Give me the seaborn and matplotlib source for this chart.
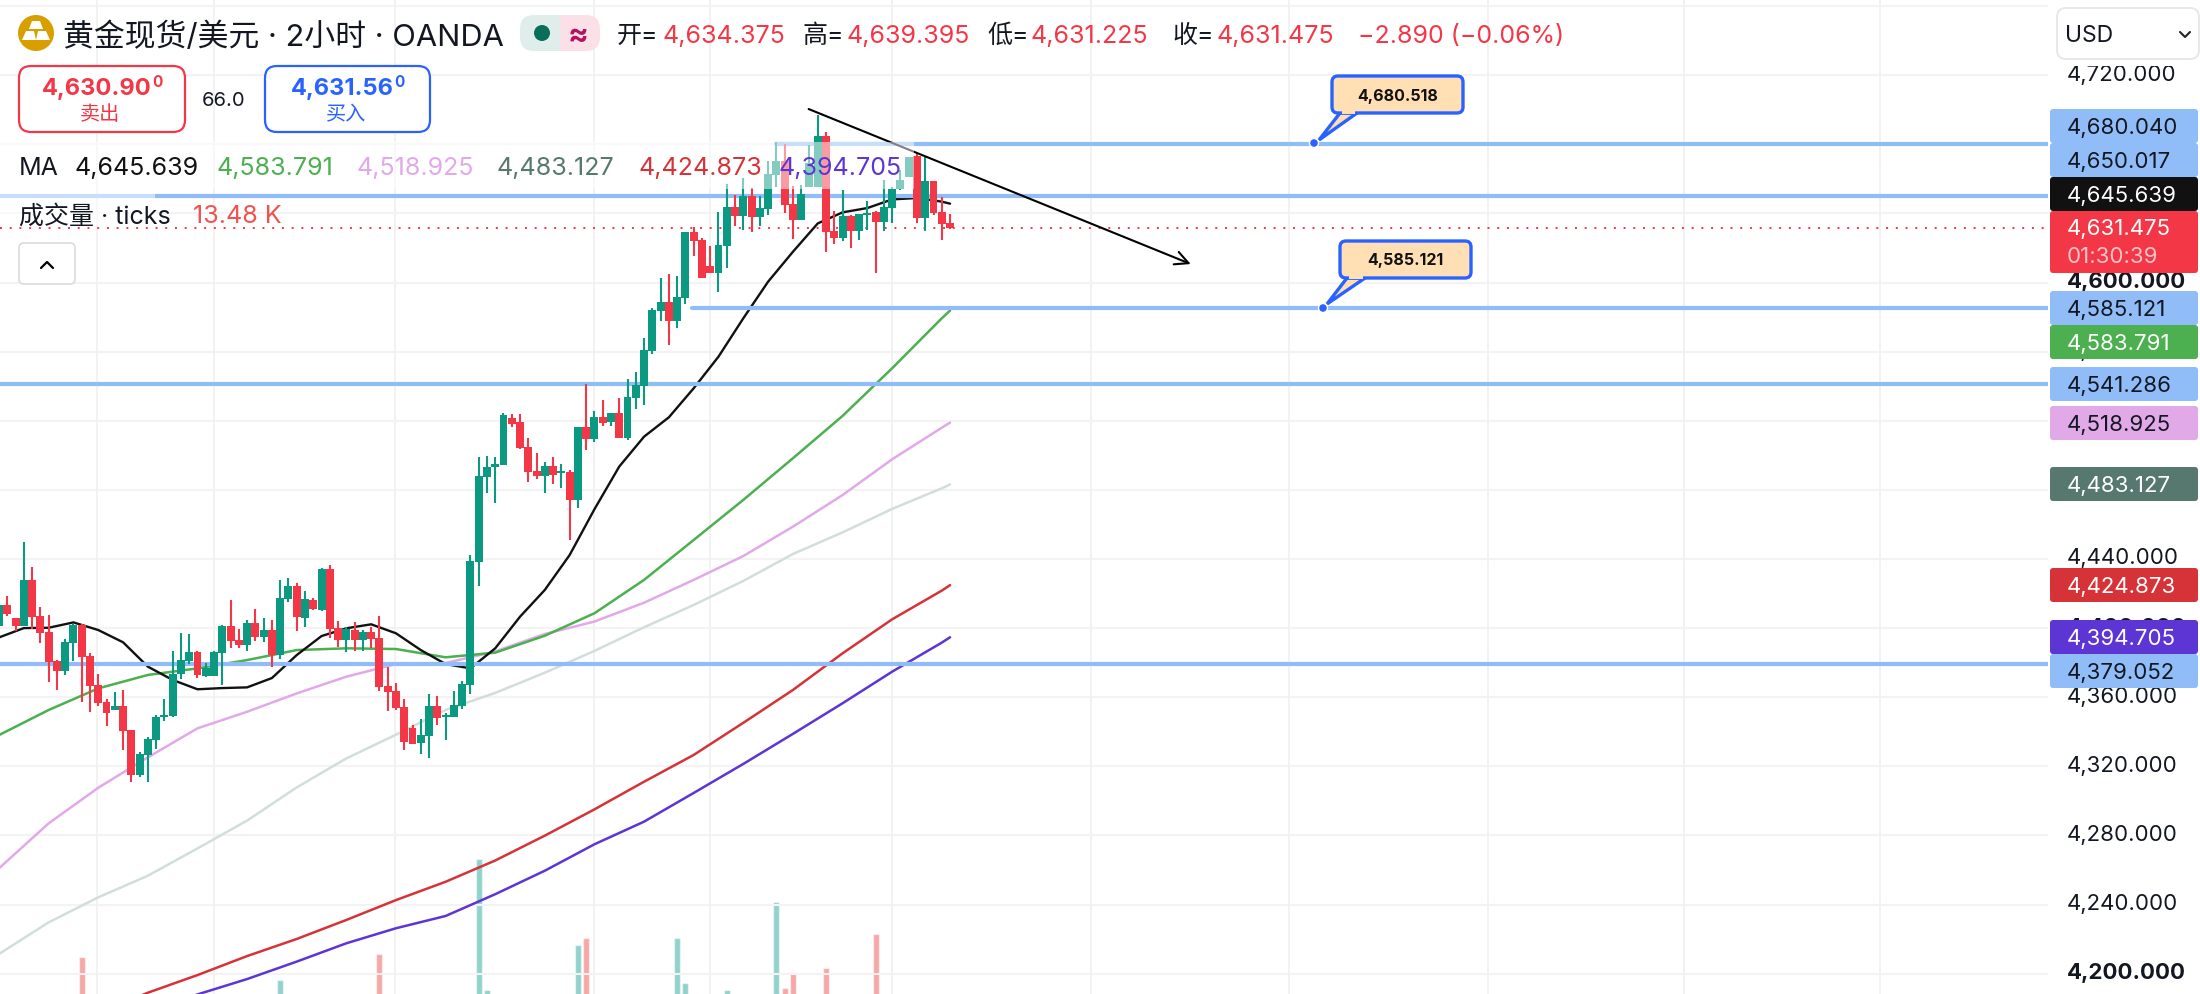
# gold spot 2h candle screenshot
import matplotlib
matplotlib.use('Agg')
import matplotlib.pyplot as plt
import seaborn as sns
import pandas as pd
from matplotlib.patches import FancyBboxPatch, Rectangle, Circle, Polygon
from matplotlib.lines import Line2D
from matplotlib.ticker import FuncFormatter
from matplotlib.transforms import Affine2D, ScaledTranslation

W, H = 2200, 994

opens = [4401.2, 4413.4, 4405.8, 4401.4, 4427.8, 4407.0, 4397.7, 4381.0, 4375.4, 4391.4,
         4401.8, 4383.8, 4367.1, 4357.2, 4352.6, 4354.9, 4341.0, 4315.0, 4326.6, 4335.2,
         4348.5, 4349.1, 4373.4, 4381.0, 4386.2, 4372.3, 4372.3, 4385.6, 4401.2, 4393.1,
         4390.2, 4402.9, 4394.8, 4398.9, 4384.4, 4416.8, 4424.4, 4405.8, 4416.2, 4410.5,
         4434.2, 4400.0, 4393.1, 4398.9, 4393.1, 4397.7, 4394.3, 4366.5, 4363.6, 4354.3,
         4342.2, 4333.5, 4337.6, 4354.9, 4348.5, 4348.5, 4354.9, 4367.1, 4438.2, 4487.4,
         4493.2, 4494.3, 4521.5, 4519.2, 4504.8, 4490.9, 4488.0, 4493.8, 4489.7, 4490.3,
         4474.1, 4516.3, 4509.4, 4522.1, 4519.2, 4524.4, 4510.0, 4533.1, 4540.1, 4560.4,
         4583.5, 4588.8, 4577.8, 4591.0, 4629.2, 4624.6, 4609.5, 4605.5, 4621.1, 4643.7,
         4638.5, 4650.0, 4637.9, 4642.5, 4662.2, 4670.3, 4645.4, 4636.2, 4655.3, 4655.3,
         4684.8, 4629.8, 4625.7, 4638.5, 4629.8, 4639.0, 4640.8, 4635.0, 4643.1, 4654.1,
         4661.0, 4673.2, 4637.3, 4658.7, 4640.8, 4634.375]
closes = [4413.4, 4408.2, 4401.2, 4427.8, 4406.6, 4397.4, 4380.6, 4375.4, 4391.9, 4401.8,
          4383.3, 4366.5, 4356.6, 4350.9, 4354.9, 4340.4, 4315.0, 4327.1, 4335.8, 4348.5,
          4349.7, 4373.4, 4381.5, 4386.2, 4372.9, 4376.9, 4386.2, 4401.2, 4392.5, 4390.2,
          4402.9, 4394.8, 4398.9, 4384.4, 4417.4, 4424.4, 4406.4, 4416.8, 4411.0, 4434.2,
          4399.5, 4393.1, 4399.5, 4393.1, 4397.7, 4393.7, 4365.9, 4363.0, 4353.8, 4334.1,
          4332.9, 4338.1, 4354.9, 4348.0, 4349.7, 4355.5, 4367.6, 4438.8, 4488.0, 4493.2,
          4494.9, 4523.3, 4518.1, 4504.2, 4490.3, 4488.0, 4493.8, 4488.6, 4490.9, 4474.1,
          4516.3, 4509.4, 4522.1, 4518.7, 4524.4, 4510.0, 4533.7, 4540.6, 4561.0, 4584.1,
          4588.8, 4577.8, 4591.6, 4629.2, 4624.0, 4602.6, 4605.5, 4621.7, 4643.7, 4638.5,
          4650.0, 4637.9, 4643.1, 4662.8, 4670.3, 4644.8, 4636.2, 4651.2, 4669.0, 4684.8,
          4629.2, 4625.7, 4638.5, 4629.8, 4639.6, 4640.2, 4635.0, 4643.7, 4654.1, 4659.3,
          4672.6, 4637.3, 4658.7, 4640.2, 4633.8, 4631.475]
highs = [4413.4, 4418.6, 4405.8, 4449.8, 4435.4, 4412.2, 4407.6, 4381.5, 4393.7, 4402.4,
         4402.4, 4385.6, 4373.4, 4359.0, 4363.0, 4364.2, 4341.0, 4328.3, 4337.0, 4349.7,
         4359.0, 4386.7, 4397.2, 4396.6, 4386.7, 4379.8, 4386.7, 4401.8, 4416.2, 4399.5,
         4404.7, 4411.0, 4405.8, 4404.7, 4427.8, 4429.0, 4426.1, 4421.5, 4417.4, 4434.8,
         4436.5, 4404.1, 4400.6, 4403.5, 4398.9, 4400.6, 4407.0, 4377.5, 4368.2, 4359.0,
         4343.9, 4347.4, 4361.9, 4360.7, 4350.9, 4363.6, 4369.4, 4442.3, 4499.0, 4499.6,
         4499.0, 4524.4, 4523.9, 4523.9, 4510.0, 4501.3, 4496.1, 4499.0, 4494.9, 4491.5,
         4516.3, 4541.2, 4525.6, 4532.0, 4524.4, 4533.1, 4544.1, 4548.2, 4567.9, 4585.3,
         4602.6, 4605.0, 4603.8, 4629.2, 4632.1, 4625.7, 4621.1, 4640.8, 4657.0, 4650.6,
         4660.5, 4654.7, 4650.0, 4670.3, 4681.3, 4680.1, 4655.8, 4656.4, 4679.6, 4696.9,
         4687.1, 4641.4, 4653.5, 4639.0, 4639.6, 4647.2, 4641.4, 4659.3, 4655.3, 4665.1,
         4672.6, 4674.9, 4672.6, 4658.7, 4649.5, 4639.395]
lows = [4401.2, 4407.0, 4398.3, 4401.4, 4399.3, 4391.4, 4368.8, 4364.2, 4372.9, 4381.0,
        4357.2, 4351.4, 4354.9, 4343.3, 4352.6, 4329.5, 4310.9, 4313.8, 4310.9, 4330.0,
        4346.2, 4348.5, 4370.5, 4379.2, 4371.1, 4371.7, 4372.3, 4367.1, 4388.5, 4388.5,
        4386.7, 4392.5, 4391.9, 4377.5, 4382.1, 4415.1, 4398.3, 4400.6, 4410.5, 4409.9,
        4394.3, 4389.0, 4386.2, 4386.7, 4386.7, 4388.5, 4363.6, 4352.0, 4352.6, 4329.5,
        4332.9, 4327.1, 4324.8, 4343.9, 4335.2, 4348.5, 4353.2, 4361.9, 4424.3, 4478.2,
        4472.4, 4494.3, 4516.3, 4503.6, 4484.5, 4486.2, 4478.2, 4483.4, 4481.0, 4451.0,
        4469.5, 4503.0, 4507.7, 4516.9, 4516.9, 4510.0, 4508.8, 4526.8, 4529.1, 4558.7,
        4577.8, 4563.9, 4573.7, 4587.6, 4615.3, 4602.6, 4605.5, 4594.5, 4608.4, 4632.7,
        4630.4, 4629.2, 4632.7, 4639.0, 4655.3, 4640.2, 4625.2, 4636.2, 4655.3, 4655.3,
        4617.6, 4622.3, 4624.0, 4620.0, 4624.6, 4630.4, 4605.5, 4629.8, 4634.4, 4653.5,
        4661.0, 4634.4, 4629.8, 4639.0, 4624.6, 4631.225]

# only the volume bars that reach into the visible part
vol_idx = [10, 34, 46, 58, 59, 70, 71, 82, 83, 88, 94, 95, 96, 100, 106]
vol_k = [17.3, 15.0, 17.6, 27.1, 14.0, 18.5, 19.2, 19.2, 14.7, 14.0, 22.8, 14.2, 15.7, 16.2, 19.6]

# moving averages, read every few candles
idx3 = list(range(0, 115, 3)) + [115]
ma_black = [4394.6, 4400.0, 4400.2, 4403.3, 4398.9, 4391.8, 4377.7, 4370.0, 4364.6, 4365.3,
            4365.7, 4371.1, 4384.4, 4395.4, 4399.9, 4402.2, 4397.0, 4387.3, 4379.2, 4376.7,
            4388.3, 4406.6, 4422.1, 4442.3, 4468.8, 4493.5, 4510.8, 4522.0, 4538.8, 4557.1,
            4579.3, 4600.5, 4617.8, 4634.2, 4640.6, 4643.1, 4648.1, 4648.9, 4646.8, 4645.639]
idx6 = list(range(0, 115, 6)) + [115]
ma_green = [4338.1, 4352.6, 4365.1, 4372.9, 4376.7, 4381.5, 4387.3, 4388.3, 4387.9, 4383.1, 4385.8,
            4395.6, 4408.6, 4427.9, 4451.0, 4474.2, 4498.3, 4522.8, 4550.4, 4579.3, 4583.791]
ma_pink = [4261.0, 4287.0, 4307.6, 4325.2, 4342.0, 4351.6, 4362.2, 4371.9, 4379.2, 4379.8, 4386.5,
           4396.6, 4403.8, 4414.7, 4427.9, 4441.7, 4458.7, 4477.0, 4497.7, 4516.0, 4518.925]
ma_gray = [4211.4, 4229.7, 4244.2, 4256.7, 4272.5, 4288.6, 4307.8, 4324.6, 4338.3, 4352.6, 4362.5,
           4374.2, 4386.8, 4400.5, 4413.4, 4427.3, 4442.9, 4455.4, 4469.0, 4480.9, 4483.127]
idx_red = list(range(12, 115, 6)) + [115]
ma_red = [4177.0, 4189.0, 4199.2, 4210.2, 4220.1, 4231.1, 4242.6, 4253.2, 4265.5, 4279.9,
          4295.1, 4311.1, 4326.6, 4345.2, 4364.2, 4385.4, 4405.1, 4421.7, 4424.873]
idx_purple = list(range(18, 115, 6)) + [115]
ma_purple = [4178.0, 4188.0, 4196.9, 4207.0, 4217.6, 4226.3, 4233.4, 4246.0, 4259.6,
             4274.9, 4288.0, 4304.6, 4321.4, 4338.8, 4356.5, 4374.8, 4391.6, 4394.705]

# horizontal levels: price, first candle index
levels = [(4680.04, 93.9), (4650.017, 0), (4585.121, 83.8), (4541.286, 0), (4379.052, 0)]
trend_start = (97.9, 4700.4)
trend_end = (144.1, 4610.7)
last_price = 4631.475
grid_idx = [11.9, 26, 47.9, 72, 86, 108, 132, 156, 180, 203.7, 227.5]
price_ticks = list(range(4200, 4761, 40))
bold_ticks = [4200, 4400, 4600]

UP = '#0b9a81'
DOWN = '#f43747'
BLUE = '#90bdf8'
ACCENT = '#2962ff'
DARK = '#131722'
MA_COLORS = {'black': '#111111', 'green': '#4caf50', 'pink': '#e1a9e8',
             'gray': '#d2dfd9', 'red': '#d63339', 'purple': '#5e35d5', 'slate': '#56786f'}

sns.set_theme(style='white')
plt.rcParams['font.family'] = ['Inter', 'Noto Sans CJK SC', 'DejaVu Sans']

fig = plt.figure(figsize=(W / 100, H / 100), dpi=100, facecolor='white')
vol_ax = fig.add_axes([0, 0, 2048 / W, 1], zorder=1)
ax = fig.add_axes([0, 0, 2048 / W, 1], zorder=2)
ax.patch.set_visible(False)
tr = Affine2D().scale(1 / W, -1 / H).translate(0, 1) + fig.transFigure

df = pd.DataFrame({'open': opens, 'high': highs, 'low': lows, 'close': closes})
df['i'] = df.index
df['up'] = df['close'] >= df['open']
df['color'] = df['up'].map({True: UP, False: DOWN})

# volume
vol = pd.DataFrame({'i': vol_idx, 'k': vol_k})
vol['dir'] = df['up'].iloc[vol_idx].values
sns.barplot(data=vol, x='i', y='k', hue='dir', palette={True: '#26a69a', False: '#ef5350'}, native_scale=True,
            dodge=False, width=0.72, saturation=1, alpha=0.5, legend=False, ax=vol_ax)
vol_ax.set_xlim(0.121, 247.76)
vol_ax.set_ylim(13.6, 113)
vol_ax.axis('off')

# grid
for p in price_ticks:
    ax.axhline(p, color='#f3f3f3', lw=1.5, zorder=1)
for g in grid_idx:
    ax.axvline(g, color='#f1f1f1', lw=1.3, zorder=1)

# moving averages
sns.lineplot(x=idx6, y=ma_gray, color=MA_COLORS['gray'], lw=1.8, estimator=None, ax=ax, zorder=2)
sns.lineplot(x=idx6, y=ma_pink, color=MA_COLORS['pink'], lw=1.8, estimator=None, ax=ax, zorder=2)
sns.lineplot(x=idx6, y=ma_green, color=MA_COLORS['green'], lw=1.8, estimator=None, ax=ax, zorder=2)
sns.lineplot(x=idx_red, y=ma_red, color=MA_COLORS['red'], lw=1.8, estimator=None, ax=ax, zorder=2)
sns.lineplot(x=idx_purple, y=ma_purple, color=MA_COLORS['purple'], lw=1.8, estimator=None, ax=ax, zorder=2)
sns.lineplot(x=idx3, y=ma_black, color=MA_COLORS['black'], lw=1.7, estimator=None, ax=ax, zorder=2.1)

# drawn levels and last price
for price, start in levels:
    ax.plot([start, 247.76], [price, price], color=BLUE, lw=3.0, solid_capstyle='round', zorder=2.5)
ax.axhline(last_price, color=DOWN, lw=1.4, ls=(0, (1, 4)), zorder=2.6)

# candles
ax.vlines(df['i'], df['low'], df['high'], color=df['color'], lw=1.5, zorder=3)
ax.bar(df['i'], (df['close'] - df['open']).abs(), bottom=df[['open', 'close']].min(axis=1),
       width=0.96, color=df['color'], linewidth=0, zorder=3.1)

# trend arrow
ax.annotate('', xy=trend_end, xytext=trend_start, zorder=4,
            arrowprops=dict(arrowstyle='->,head_length=0.8,head_width=0.4', color='black', lw=1.5,
                            shrinkA=0, shrinkB=0))

ax.set_xlim(0.121, 247.76)
ax.set_ylim(4188.25, 4763.5)
ax.set_xticks([])
ax.set_yticks(price_ticks)
ax.yaxis.tick_right()
ax.yaxis.set_major_formatter(FuncFormatter(lambda v, pos: '' if v > 4750 else f'{v:,.3f}'))
ax.tick_params(axis='y', length=0, pad=13.5, labelsize=16, labelcolor=DARK)
nudge = ScaledTranslation(0, 2.5 / 100, fig.dpi_scale_trans)
for lab, p in zip(ax.get_yticklabels(), price_ticks):
    lab.set_transform(lab.get_transform() + nudge)
    if p in bold_ticks:
        lab.set_fontweight('bold')
for s in ax.spines.values():
    s.set_visible(False)
ax.set_xlabel('')
ax.set_ylabel('')


def box(x0, y0, x1, y1, fc, ec='none', lw=0, r=3, z=5, alpha=None):
    p = FancyBboxPatch((x0, y0), x1 - x0, y1 - y0, boxstyle=f'round,pad=0,rounding_size={r}',
                       transform=tr, fc=fc, ec=ec, lw=lw, zorder=z, alpha=alpha)
    fig.add_artist(p)
    return p


def txt(x, y, s, color=DARK, size=18, ha='left', weight='normal', z=7):
    fig.text(x, y, s, transform=tr, color=color, fontsize=size, ha=ha, va='center_baseline',
             fontweight=weight, zorder=z)


# legend rows wash out whatever is behind them
fig.add_artist(Rectangle((0, 142), 914, 47, transform=tr, fc='white', ec='none', alpha=0.5, zorder=5))
fig.add_artist(Rectangle((0, 189), 155, 37, transform=tr, fc='white', ec='none', alpha=0.5, zorder=5))

# header
fig.add_artist(Circle((36, 33), 18, transform=tr, fc='#d99e00', ec='none', zorder=6))
fig.add_artist(Polygon([(32, 21), (40, 21), (43, 29), (29, 29)], transform=tr, fc='white', ec='none', zorder=7))
fig.add_artist(Polygon([(26, 31), (34, 31), (36, 40), (22, 40)], transform=tr, fc='white', ec='none', zorder=7))
fig.add_artist(Polygon([(38, 31), (46, 31), (50, 40), (36, 40)], transform=tr, fc='white', ec='none', zorder=7))
txt(63, 34, '黄金现货/美元 · 2小时 · OANDA', size=22.2)
box(520, 15, 562, 51, '#dfeeea', r=14, z=6)
box(558, 15, 600, 51, '#fce0e8', r=14, z=6)
fig.add_artist(Rectangle((548, 15), 12, 36, transform=tr, fc='#dfeeea', ec='none', zorder=6))
fig.add_artist(Rectangle((560, 15), 12, 36, transform=tr, fc='#fce0e8', ec='none', zorder=6))
fig.add_artist(Circle((542, 33), 8, transform=tr, fc='#0b6e5b', ec='none', zorder=7))
txt(578, 33, '≈', color='#b3125e', size=22, ha='center', weight='bold')
for x, s, c in [(617, '开=', DARK), (662, '4,634.375', DOWN), (802, '高=', DARK), (846, '4,639.395', DOWN),
                (987, '低=', DARK), (1031, '4,631.225', DOWN), (1172, '收=', DARK), (1216, '4,631.475', DOWN),
                (1358, '−2.890 (−0.06%)', DOWN)]:
    txt(x, 34, s, color=c, size=18)

# bid / ask
box(19, 66, 185, 132, 'white', ec=DOWN, lw=1.6, r=12, z=6)
box(265, 66, 430, 132, 'white', ec=ACCENT, lw=1.6, r=12, z=6)
txt(152, 86, '4,630.90', color=DOWN, size=17, ha='right', weight='bold')
txt(152, 81, '0', color=DOWN, size=11, weight='bold')
txt(100, 113, '卖出', color=DOWN, size=14.5, ha='center')
txt(394, 86, '4,631.56', color=ACCENT, size=17, ha='right', weight='bold')
txt(394, 81, '0', color=ACCENT, size=11, weight='bold')
txt(346, 113, '买入', color=ACCENT, size=14.5, ha='center')
txt(224, 99, '66.0', size=14.5, ha='center')

# indicator rows
txt(19, 166, 'MA', size=18)
for x, s, c in [(75, '4,645.639', MA_COLORS['black']), (216, '4,583.791', MA_COLORS['green']),
                (356, '4,518.925', MA_COLORS['pink']), (497, '4,483.127', MA_COLORS['slate']),
                (638, '4,424.873', MA_COLORS['red']), (778, '4,394.705', MA_COLORS['purple'])]:
    txt(x, 166, s, color=c, size=18)
txt(19, 214, '成交量 · ticks', size=18)
txt(193, 214, '13.48 K', color='#ef5350', size=18)
box(19, 243, 75, 284, 'white', ec='#dddddd', lw=1.3, r=5, z=6)
fig.add_artist(Line2D([41, 47, 53], [268, 262, 268], transform=tr, color='black', lw=1.6, zorder=7))

# callouts
for (bx0, by0, bx1, by1, px, py, tip, base0, base1, label) in [
        (1332, 76, 1463, 113, 1314, 143, (1319, 140), 1340, 1357, '4,680.518'),
        (1340, 241, 1471, 278, 1323, 308, (1327, 304), 1347, 1365, '4,585.121')]:
    fig.add_artist(Polygon([(base0, by1), (base1, by1), tip], transform=tr, fc='#ffdfb3', ec=ACCENT, lw=2.4, zorder=6))
    box(bx0, by0, bx1, by1, '#ffdfb3', ec=ACCENT, lw=2.4, r=6, z=6)
    fig.add_artist(Rectangle((base0 + 2, by1 - 2), base1 - base0 - 4, 3, transform=tr, fc='#ffdfb3', ec='none', zorder=6.5))
    fig.add_artist(Circle((px, py), 4.5, transform=tr, fc=ACCENT, ec='white', lw=1, zorder=6))
    txt((bx0 + bx1) / 2, (by0 + by1) / 2, label, color='#111111', size=11.5, ha='center', weight='bold')

# price scale tags
fig.add_artist(Rectangle((2050, 0), 150, 66, transform=tr, fc='white', ec='none', zorder=5))
box(2057, 8, 2199, 59, 'white', ec='#e8e8e8', lw=1.4, r=9, z=6)
txt(2065, 34, 'USD', size=16.5)
fig.add_artist(Line2D([2180, 2185, 2190], [32, 37, 32], transform=tr, color='#222222', lw=1.5, zorder=7))
tags = [(109, 143, BLUE, '4,680.040', DARK), (143, 177, BLUE, '4,650.017', DARK),
        (177, 211, '#111111', '4,645.639', 'white'), (291, 325, BLUE, '4,585.121', DARK),
        (325, 359, MA_COLORS['green'], '4,583.791', 'white'), (367, 401, BLUE, '4,541.286', DARK),
        (406, 440, MA_COLORS['pink'], '4,518.925', DARK), (467, 501, MA_COLORS['slate'], '4,483.127', 'white'),
        (568, 602, MA_COLORS['red'], '4,424.873', 'white'), (620, 654, MA_COLORS['purple'], '4,394.705', 'white'),
        (654, 688, BLUE, '4,379.052', DARK)]
for y0, y1, fc, s, c in tags:
    box(2050, y0, 2198, y1, fc, r=3)
    txt(2067, (y0 + y1) / 2, s, color=c, size=16)
box(2050, 211, 2198, 273, DOWN, r=3)
txt(2067, 227, '4,631.475', color='white', size=16)
txt(2067, 255, '01:30:39', color='#ffc4c9', size=16)

fig.savefig('out.png', dpi=100)
